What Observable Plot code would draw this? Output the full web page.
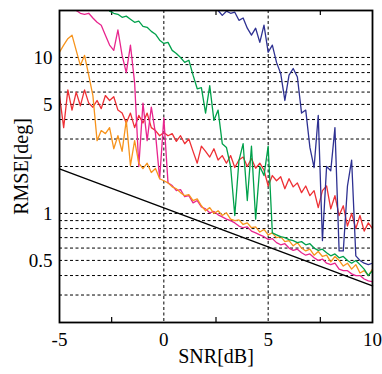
<!DOCTYPE html>
<html>
<head>
<meta charset="utf-8">
<script src="https://cdn.jsdelivr.net/npm/d3@7"></script>
<script src="https://cdn.jsdelivr.net/npm/@observablehq/plot@0.6"></script>
<style>
  html, body { margin: 0; padding: 0; background: #fff; }
  svg text { font-family: 'Liberation Serif', 'Times New Roman', serif; }
</style>
</head>
<body>
<div id="chart"></div>
<script>
// SNR grid [dB]
const snr = [-5,-4.8,-4.6,-4.4,-4.2,-4,-3.8,-3.6,-3.4,-3.2,-3,-2.8,-2.6,-2.4,-2.2,-2,-1.8,-1.6,-1.4,-1.2,
  -1,-0.8,-0.6,-0.4,-0.2,0,0.2,0.4,0.6,0.8,1,1.2,1.4,1.6,1.8,2,2.2,2.4,2.6,2.8,
  3,3.2,3.4,3.6,3.8,4,4.2,4.4,4.6,4.8,5,5.2,5.4,5.6,5.8,6,6.2,6.4,6.6,6.8,
  7,7.2,7.4,7.6,7.8,8,8.2,8.4,8.6,8.8,9,9.2,9.4,9.6,9.8,10];

// RMSE [deg] per method (null = above the plotted range)
const method1 = [5.7,3.55,6.2,4.6,6.0,4.9,6.2,5.1,4.8,5.3,4.7,5.7,5.3,5.6,4.6,4.4,3.8,4.4,3.55,4.25,
  3.8,4.4,3.55,3.4,3.15,3.3,3.15,3.25,2.9,3.15,2.8,3.0,2.5,2.1,2.7,2.5,2.3,2.6,2.2,2.35,
  2.1,2.35,1.97,2.2,2.3,2.0,2.25,1.95,2.1,1.9,1.5,1.75,1.62,1.72,1.44,1.67,1.48,1.57,1.36,1.5,
  1.3,1.4,1.09,1.4,1.5,1.07,1.3,0.97,1.12,0.83,1.0,0.8,0.97,0.77,0.87,0.8];

const method2 = [10.8,12.0,13.2,13.9,11.1,8.9,10.3,7.7,5.7,2.93,3.4,3.25,3.55,2.6,3.15,2.5,3.95,2.03,2.93,2.1,
  1.94,2.1,1.83,1.94,1.67,1.62,1.57,1.48,1.44,1.36,1.3,1.32,1.21,1.24,1.12,1.04,1.09,1.0,1.04,0.97,
  1.01,0.92,0.9,0.91,0.85,0.87,0.81,0.82,0.76,0.79,0.73,0.75,0.7,0.71,0.66,0.67,0.62,0.65,0.6,0.575,
  0.59,0.54,0.57,0.53,0.54,0.49,0.53,0.5,0.46,0.48,0.44,0.47,0.415,0.43,0.4,0.44];

const method3 = [null,null,null,null,20,19.2,18.9,19.2,17.9,16.8,16.1,13.9,12.0,11.1,15,10.3,8.0,12.0,6.9,2.0,
  5.1,2.93,4.8,3.25,1.67,4.1,1.57,1.51,1.4,1.42,1.28,1.3,1.17,1.21,1.1,1.07,1.01,1.03,0.98,0.95,
  0.92,0.9,0.87,0.83,0.81,0.82,0.77,0.75,0.73,0.71,0.68,0.69,0.65,0.63,0.64,0.6,0.58,0.59,0.56,0.54,
  0.55,0.52,0.5,0.51,0.48,0.47,0.48,0.44,0.43,0.43,0.41,0.4,0.4,0.38,0.37,0.365];

const method4 = [null,null,null,null,null,null,null,null,null,null,null,null,19.8,19.2,18.9,18.1,18.4,17.6,16.8,17.1,
  15.8,15.6,14.7,14.1,12.9,12.3,12.5,11.1,10.6,10.0,9.3,9.6,7.7,6.3,6.4,4.4,6.6,3.95,4.6,2.8,
  2.65,2.0,0.97,2.18,2.8,1.21,2.7,0.92,2.0,1.75,2.7,0.75,0.73,0.71,0.7,0.68,0.67,0.65,0.66,0.63,
  0.64,0.6,0.58,0.59,0.56,0.535,0.55,0.52,0.53,0.5,0.48,0.5,0.47,0.44,0.4,0.43];

const method5 = [null,null,null,null,null,null,null,null,null,null,null,null,null,null,null,null,null,null,null,null,
  null,null,null,null,null,null,null,null,null,null,null,null,null,null,null,null,null,null,20,18.6,
  19.8,19.2,19.5,17.3,17.9,15.4,13.9,15.4,12.5,16.1,10.8,12.0,9.3,7.9,5.3,7.7,8.5,7.5,4.4,4.6,
  2.65,1.97,4.25,0.67,2.0,1.88,3.55,0.575,0.575,1.5,2.2,0.535,0.5,0.48,0.47,0.48];

// Cramer-Rao bound (straight line on the log scale)
const crbSnr = [-5, 0, 5, 10];
const crb = [1.93, 1.085, 0.61, 0.343];

const seriesNames = ["M1", "M5", "M3", "M2", "M4"];
const seriesValues = [method1, method5, method3, method2, method4];
const seriesColors = ["#EE3035", "#2E3192", "#E8258E", "#F7941D", "#00A14B"];

// axis ticks & grid
const xTicks = [-5, 0, 5, 10];
const xMinorTicks = [-2.5, 2.5, 7.5];
const xGrid = [0, 5];
const yTicks = [0.5, 1, 5, 10];
const yGrid = [0.3,0.4,0.5,0.6,0.7,0.8,0.9,1,2,3,4,5,6,7,8,9,10];

const rows = seriesNames.flatMap((name, k) =>
  snr.map((x, i) => ({name, x, y: seriesValues[k][i]})).filter(d => d.y != null));
const crbRows = crbSnr.map((x, i) => ({x, y: crb[i]}));

const innerH = 374 - 10 - 52;
const serif = "'Liberation Serif', 'Times New Roman', serif";

const chart = Plot.plot({
  width: 382,
  height: 374,
  marginLeft: 59,
  marginRight: 10,
  marginTop: 10,
  marginBottom: 52,
  style: {fontFamily: serif, fontSize: "16px", background: "#fff", color: "#000"},
  x: {domain: [-5, 10]},
  y: {type: "log", domain: [0.2, 20]},
  color: {domain: seriesNames, range: seriesColors},
  marks: [
    Plot.ruleY(yGrid, {stroke: "#000", strokeWidth: 1, strokeDasharray: "3,2.5"}),
    Plot.ruleX(xGrid, {stroke: "#000", strokeWidth: 1, strokeDasharray: "3,2.5"}),
    Plot.tickX(xMinorTicks, {x: d => d, stroke: "#000", strokeWidth: 1.2, insetTop: innerH - 5}),
    Plot.tickX(xMinorTicks, {x: d => d, stroke: "#000", strokeWidth: 1.2, insetBottom: innerH - 5}),
    Plot.line(rows, {x: "x", y: "y", z: "name", stroke: "name", strokeWidth: 1.3, clip: true}),
    Plot.line(crbRows, {x: "x", y: "y", stroke: "#000", strokeWidth: 1.4}),
    Plot.frame({stroke: "#000", strokeWidth: 1.8}),
    Plot.axisX({ticks: xTicks, tickSize: 0, tickPadding: 10, tickFormat: d => String(d), label: null, fontSize: 19, fontFamily: serif}),
    Plot.axisY({ticks: yTicks, tickSize: 0, tickPadding: 7, tickFormat: d => String(d), label: null, fontSize: 19, fontFamily: serif}),
    Plot.text(["RMSE[deg]"], {frameAnchor: "left", dx: -38, rotate: -90, fontSize: 20, fontFamily: serif, textAnchor: "middle"}),
    Plot.text(["SNR[dB]"], {frameAnchor: "bottom", dy: 40, fontSize: 20, fontFamily: serif, textAnchor: "middle"})
  ]
});

document.getElementById("chart").appendChild(chart);
</script>
</body>
</html>
